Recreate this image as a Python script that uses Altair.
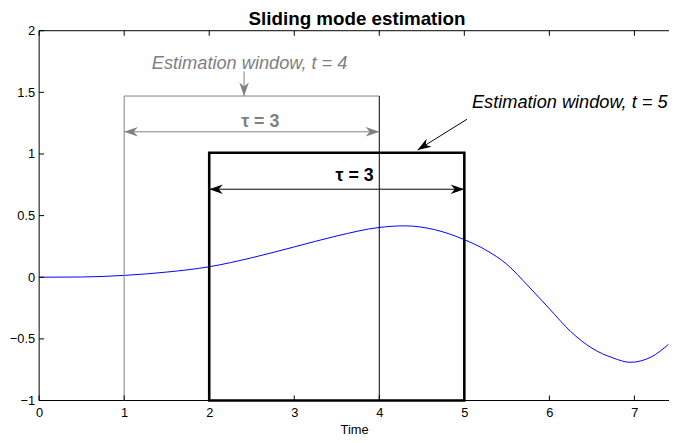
import altair as alt
import pandas as pd

# ---- data ----
title_text = "Sliding mode estimation"

# blue response curve
curve_t = [0, 0.5, 1, 1.5, 2, 2.5, 3, 3.5, 4, 4.3, 4.65, 5, 5.25, 5.5, 5.75, 6,
           6.25, 6.5, 6.75, 6.95, 7.2, 7.4]
curve_y = [0, 0.002, 0.015, 0.042, 0.085, 0.158, 0.246, 0.335, 0.404, 0.417, 0.386,
           0.305, 0.222, 0.105, -0.07, -0.255, -0.44, -0.575, -0.655, -0.69, -0.646, -0.545]

# axes
x_ticks = [0, 1, 2, 3, 4, 5, 6, 7]
y_ticks = [-1, -0.5, 0, 0.5, 1, 1.5, 2]
x_max = 7.407
y_min, y_max = -1, 2

# estimation windows (t = 4 in gray, t = 5 in black)
win_left = [1, 2]
win_right = [4, 5]
win_top = [1.47, 1.01]
win_color = ["#808080", "#000000"]

# tau double arrows and their labels
tau_y = [1.18, 0.714]
tau_label = ["τ = 3", "τ = 3"]
tau_label_x = [2.6, 3.71]
tau_label_y = [1.22, 0.78]

# window annotations with pointer arrows
ann_text = ["Estimation window, t = 4", "Estimation window, t = 5"]
ann_x = [2.475, 6.24]
ann_y = [1.69, 1.374]
ptr_x = [2.41, 5.03]
ptr_y = [1.67, 1.281]
ptr_x2 = [2.41, 4.45]
ptr_y2 = [1.47, 1.032]
ptr_angle = [180, 238]

GRAY = "#808080"
BLACK = "#000000"

# ---- tables ----
curve = pd.DataFrame({"x": curve_t, "y": curve_y})

rules = pd.DataFrame([
    # frame
    dict(x=0, y=y_min, x2=0, y2=y_max, c=BLACK, w=1),
    dict(x=0, y=y_min, x2=x_max, y2=y_min, c=BLACK, w=1),
    dict(x=0, y=y_max, x2=x_max, y2=y_max, c=BLACK, w=1),
    # gray window (t = 4)
    dict(x=win_left[0], y=y_min, x2=win_left[0], y2=win_top[0], c=GRAY, w=1),
    dict(x=win_left[0], y=win_top[0], x2=win_right[0], y2=win_top[0], c=GRAY, w=1),
    dict(x=win_right[0], y=y_min, x2=win_right[0], y2=win_top[0], c=BLACK, w=1),
    # tau arrow shafts
    dict(x=win_left[0], y=tau_y[0], x2=win_right[0], y2=tau_y[0], c=GRAY, w=1),
    dict(x=win_left[1], y=tau_y[1], x2=win_right[1], y2=tau_y[1], c=BLACK, w=1),
    # pointer shafts
    dict(x=ptr_x[0], y=ptr_y[0], x2=ptr_x2[0], y2=ptr_y2[0], c=GRAY, w=1),
    dict(x=ptr_x[1], y=ptr_y[1], x2=ptr_x2[1], y2=ptr_y2[1], c=BLACK, w=1),
])

heads = pd.DataFrame([
    dict(x=win_left[0], y=tau_y[0], a=270, c=GRAY),
    dict(x=win_right[0], y=tau_y[0], a=90, c=GRAY),
    dict(x=win_left[1], y=tau_y[1], a=270, c=BLACK),
    dict(x=win_right[1], y=tau_y[1], a=90, c=BLACK),
    dict(x=ptr_x2[0], y=ptr_y2[0], a=ptr_angle[0], c=GRAY),
    dict(x=ptr_x2[1], y=ptr_y2[1], a=ptr_angle[1], c=BLACK),
])

box = pd.DataFrame({"x": [win_left[1]], "x2": [win_right[1]],
                    "y": [y_min], "y2": [win_top[1]]})

tau_df = pd.DataFrame({"x": tau_label_x, "y": tau_label_y, "text": tau_label,
                       "c": win_color})
ann_df = pd.DataFrame({"x": ann_x, "y": ann_y, "text": ann_text, "c": win_color})
title_df = pd.DataFrame({"x": [x_max / 2], "y": [y_max], "text": [title_text]})

xtick_bottom = pd.DataFrame({"x": x_ticks, "y": [y_min] * len(x_ticks)})
xtick_top = pd.DataFrame({"x": x_ticks, "y": [y_max] * len(x_ticks)})
ytick_left = pd.DataFrame({"x": [0] * len(y_ticks), "y": y_ticks})

# ---- scales / axes ----
xs = alt.Scale(domain=[0, x_max], nice=False, zero=False)
ys = alt.Scale(domain=[y_min, y_max], nice=False, zero=False)

bottom_axis = alt.Axis(values=x_ticks, ticks=False, tickSize=0, domain=False, grid=False,
                       labelPadding=6, labelFontSize=13, labelColor=BLACK,
                       labelFlush=False, labelOverlap=False,
                       title="Time", titleFontSize=13, titleFontWeight="normal",
                       titleColor=BLACK, titlePadding=4)
left_axis = alt.Axis(values=y_ticks, format="~g", ticks=False, tickSize=0, domain=False,
                     grid=False, labelPadding=4.5, labelFontSize=13, labelColor=BLACK,
                     labelFlush=False, labelOverlap=False, title="")


def X(f):
    return alt.X(f, type="quantitative", scale=xs, axis=bottom_axis)


def Y(f):
    return alt.Y(f, type="quantitative", scale=ys, axis=left_axis)


line = alt.Chart(curve).mark_line(color="#0000ff", strokeWidth=1, interpolate="monotone").encode(
    x=X("x"), y=Y("y")
)

rule_layer = alt.Chart(rules).mark_rule().encode(
    x=X("x"), y=Y("y"),
    x2="x2", y2="y2",
    color=alt.Color("c:N", scale=None),
    size=alt.Size("w:Q", scale=None),
)

tick_b = alt.Chart(xtick_bottom).mark_tick(orient="vertical", size=5, thickness=1,
                                           color=BLACK, opacity=1, yOffset=-2.5).encode(
    x=X("x"), y=Y("y"))
tick_t = alt.Chart(xtick_top).mark_tick(orient="vertical", size=5, thickness=1,
                                        color=BLACK, opacity=1, yOffset=2.5).encode(
    x=X("x"), y=Y("y"))
tick_l = alt.Chart(ytick_left).mark_tick(orient="horizontal", size=5, thickness=1,
                                         color=BLACK, opacity=1, xOffset=2.5).encode(
    x=X("x"), y=Y("y"))

box_layer = alt.Chart(box).mark_rect(fillOpacity=0, stroke=BLACK, strokeWidth=2.6).encode(
    x=X("x"), x2="x2", y=Y("y"), y2="y2"
)

ARROW = "M0,0L0.7,2L0,1.4L-0.7,2Z"
head_layer = alt.Chart(heads).mark_point(shape=ARROW, filled=True, size=190, opacity=1,
                                         strokeWidth=0).encode(
    x=X("x"), y=Y("y"),
    angle=alt.Angle("a:Q", scale=None),
    color=alt.Color("c:N", scale=None),
)

tau_layer = alt.Chart(tau_df).mark_text(fontSize=18, fontWeight="bold", align="center",
                                        baseline="alphabetic").encode(
    x=X("x"), y=Y("y"), text="text:N", color=alt.Color("c:N", scale=None)
)

ann_layer = alt.Chart(ann_df).mark_text(fontSize=18.4, fontStyle="italic", align="center",
                                        baseline="alphabetic").encode(
    x=X("x"), y=Y("y"), text="text:N", color=alt.Color("c:N", scale=None)
)

title_layer = alt.Chart(title_df).mark_text(fontSize=19, fontWeight="bold", align="center",
                                            baseline="alphabetic", dy=-5.5, dx=3,
                                            color=BLACK).encode(
    x=X("x"), y=Y("y"), text="text:N"
)

chart = alt.layer(line, box_layer, rule_layer, tick_b, tick_t, tick_l, head_layer,
                  tau_layer, ann_layer, title_layer).properties(
    width=637,
    height=374,
    autosize=alt.AutoSizeParams(type="none"),
    padding={"left": 31.5, "top": 20.5, "right": 0, "bottom": 40},
).configure(
    font="Liberation Sans"
).configure_view(
    stroke=None
)

chart.save("out.html", embed_options={"renderer": "svg", "actions": False})
